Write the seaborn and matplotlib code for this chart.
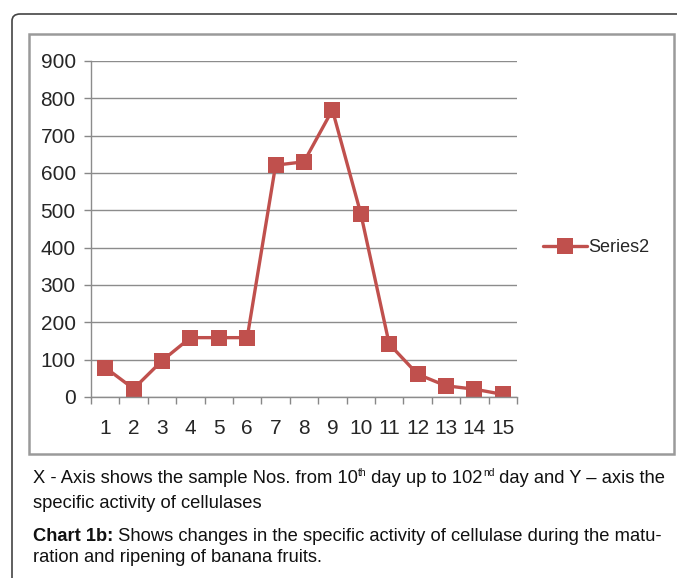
import numpy as np
import pandas as pd
import seaborn as sns
import matplotlib
matplotlib.use("Agg")
import matplotlib.pyplot as plt
from matplotlib.patches import FancyBboxPatch, Rectangle

samples = [str(i) for i in range(1, 16)]
activity = [79, 22, 97, 159, 159, 159, 621, 630, 769, 491, 142, 61, 30, 21, 7]
yticks = [0, 100, 200, 300, 400, 500, 600, 700, 800, 900]

sns.set_theme(style="white")
plt.rcParams["font.family"] = ["Liberation Sans", "DejaVu Sans"]

W, H = 677, 578
fig = plt.figure(figsize=(W / 100, H / 100), dpi=100)
fig.patch.set_facecolor("white")

def px(x0, y0, x1, y1):
    return [x0 / W, 1 - y1 / H, (x1 - x0) / W, (y1 - y0) / H]

# outer rounded frame and grey chart box
fig.patches.append(FancyBboxPatch((12 / W, -0.1), 1.2, (H - 14) / H + 0.1,
                                  boxstyle="round,pad=0,rounding_size=0.012",
                                  transform=fig.transFigure, fill=False,
                                  edgecolor="#444444", linewidth=1.2))
fig.patches.append(Rectangle((29 / W, 1 - 454 / H), (674 - 29) / W, (454 - 34) / H,
                             transform=fig.transFigure, fill=False,
                             edgecolor="#9a9a9a", linewidth=1.8))

ax = fig.add_axes(px(91, 61, 517, 397))
df = pd.DataFrame({"x": np.arange(len(samples)), "y": activity})
sns.lineplot(data=df, x="x", y="y", ax=ax, color="#C0504D", linewidth=2.4,
             marker="s", markersize=11, markeredgewidth=0, label="Series2")

ax.set_xlim(-0.5, len(samples) - 0.5)
ax.set_ylim(0, 900)
ax.set_yticks(yticks)
ax.set_xticks(np.arange(len(samples)))
ax.set_xticklabels(samples)
ax.set_xticks(np.arange(len(samples) + 1) - 0.5, minor=True)
ax.tick_params(axis="x", which="major", length=0, labelsize=15, pad=16)
ax.tick_params(axis="x", which="minor", length=5, width=1, color="#888888", direction="out", bottom=True)
ax.tick_params(axis="y", which="major", length=5, width=1, color="#888888", direction="out",
               left=True, labelsize=15, pad=6)
ax.yaxis.grid(True, color="#8c8c8c", linewidth=1)
ax.set_axisbelow(True)
ax.set_xlabel("")
ax.set_ylabel("")
for s in ["top", "right"]:
    ax.spines[s].set_visible(False)
for s in ["left", "bottom"]:
    ax.spines[s].set_color("#8c8c8c")
    ax.spines[s].set_linewidth(1)

leg = ax.legend(loc="center left", bbox_to_anchor=(1.045, 0.445), frameon=False,
                fontsize=13, handlelength=2.4, handletextpad=0.1, borderaxespad=0)

fs = 13.2
sup = 7.5
ink = "#111111"
renderer = fig.canvas.get_renderer()


def run(pieces, x, y):
    # pieces: (text, size, raise in px, bold); placed side by side on one baseline
    for txt, size, rise, bold in pieces:
        t = fig.text(x / W, 1 - (y - rise) / H, txt, fontsize=size, va="baseline",
                     color=ink, fontweight="bold" if bold else "normal")
        x = t.get_window_extent(renderer).x1


run([("X - Axis shows the sample Nos. from 10", fs, 0, False),
     ("th", sup, 7, False),
     (" day up to 102", fs, 0, False),
     ("nd", sup, 7, False),
     (" day and Y \u2013 axis the", fs, 0, False)], 33, 483)
run([("specific activity of cellulases", fs, 0, False)], 33, 508)
run([("Chart 1b:", fs, 0, True),
     (" Shows changes in the specific activity of cellulase during the matu-", fs, 0, False)],
    33, 541)
run([("ration and ripening of banana fruits.", fs, 0, False)], 33, 562)

fig.savefig("out.png", dpi=100)
